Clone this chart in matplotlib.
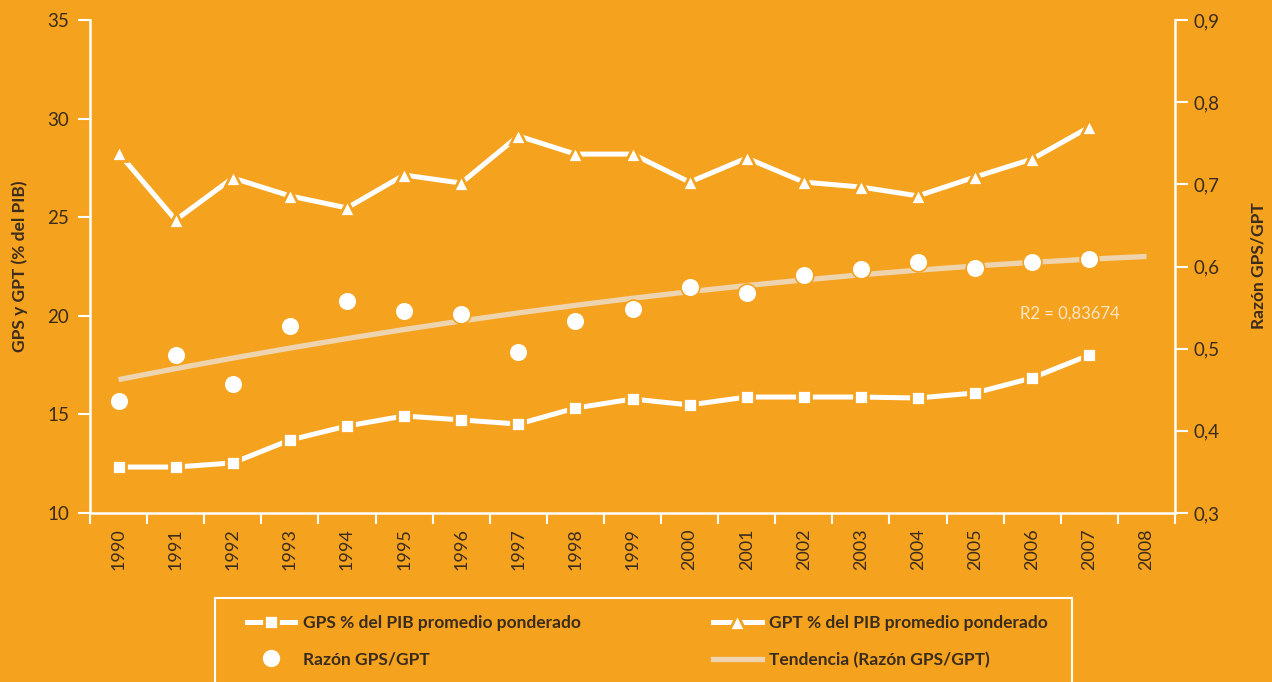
import numpy as np
import matplotlib
matplotlib.use("Agg")
import matplotlib.pyplot as plt
from matplotlib.lines import Line2D
from matplotlib.patches import Rectangle
from matplotlib.ticker import FuncFormatter

# =========================================================
# DATA
# =========================================================
years = [1990, 1991, 1992, 1993, 1994, 1995, 1996, 1997, 1998, 1999,
         2000, 2001, 2002, 2003, 2004, 2005, 2006, 2007, 2008]

gps_pib = [12.33, 12.33, 12.54, 13.70, 14.41, 14.92, 14.72, 14.51, 15.32,
           15.78, 15.48, 15.88, 15.88, 15.88, 15.83, 16.09, 16.85, 18.01]

gpt_pib = [28.26, 24.86, 26.99, 26.08, 25.47, 27.14, 26.73, 29.12, 28.20,
           28.20, 26.78, 28.00, 26.78, 26.53, 26.08, 27.04, 27.95, 29.57]

razon = [0.436, 0.492, 0.457, 0.528, 0.558, 0.546, 0.542, 0.496, 0.534,
         0.548, 0.575, 0.568, 0.590, 0.597, 0.605, 0.598, 0.605, 0.609]

r2_label = "R2 = 0,83674"

# =========================================================
# STYLE
# =========================================================
bg = "#F5A21E"
txt = "#3a2c1c"
trend_col = "#EED4AE"
plt.rcParams["font.family"] = ["Lato", "DejaVu Sans"]

fig = plt.figure(figsize=(12.72, 6.82), dpi=100, facecolor=bg)
ax = fig.add_axes([90 / 1272, 1 - 513 / 682, (1175 - 90) / 1272, (513 - 20) / 682])
ax.set_facecolor(bg)
ax2 = ax.twinx()

x = np.arange(len(gps_pib))
x_all = np.arange(len(years))

# trend: quadratic fit of the ratio, extended one period forward
coef = np.polyfit(x, razon, 2)
trend = np.polyval(coef, x_all)

ax2.plot(x_all, trend, color=trend_col, lw=3.8, solid_capstyle="butt", zorder=1)
ax2.plot(x, razon, ls="none", marker="o", ms=13.5, mfc="white", mec=bg, mew=1.2, zorder=3)

ax.plot(x, gps_pib, color="white", lw=3.6, marker="s", ms=10.5,
        mfc="white", mec=bg, mew=2.0, zorder=3)
ax.plot(x, gpt_pib, color="white", lw=3.6, marker="^", ms=11.5,
        mfc="white", mec=bg, mew=2.0, zorder=3)

ax.set_zorder(ax2.get_zorder() + 1)
ax.patch.set_visible(False)
ax2.patch.set_visible(True)
ax2.patch.set_facecolor(bg)

ax.text(0.857, 0.405, r2_label, transform=ax.transAxes, color="#FCE6C4",
        fontsize=12, ha="left", va="center")

# axes limits and ticks
ax.set_xlim(-0.5, len(years) - 0.5)
ax.set_ylim(10, 35)
ax.set_yticks([10, 15, 20, 25, 30, 35])
ax2.set_ylim(0.3, 0.9)
ax2.set_yticks([0.3, 0.4, 0.5, 0.6, 0.7, 0.8, 0.9])
ax2.yaxis.set_major_formatter(FuncFormatter(lambda v, p: f"{v:.1f}".replace(".", ",")))

ax.set_xticks(x_all)
ax.set_xticklabels([str(y) for y in years], rotation=90, va="top")
ax.set_xticks(np.arange(-0.5, len(years)), minor=True)
ax.tick_params(axis="x", which="major", length=0, pad=11, labelsize=13, labelcolor=txt)
ax.tick_params(axis="x", which="minor", length=8, width=1.5, color="white", direction="out")
ax.tick_params(axis="y", length=9, width=1.5, color="white", pad=6, labelsize=13.5, labelcolor=txt)
ax2.tick_params(axis="y", length=9, width=1.5, color="white", pad=4, labelsize=13.5, labelcolor=txt)

for a in (ax, ax2):
    for s in a.spines.values():
        s.set_visible(False)
ax.spines["left"].set_visible(True)
ax.spines["bottom"].set_visible(True)
ax2.spines["right"].set_visible(True)
for s in (ax.spines["left"], ax.spines["bottom"], ax2.spines["right"]):
    s.set_color("white")
    s.set_linewidth(1.8)

fig.text(20 / 1272, 1 - 266 / 682, "GPS y GPT (% del PIB)", rotation=90, ha="center",
         va="center", fontsize=12.5, fontweight="bold", color=txt)
fig.text(1258 / 1272, 1 - 266 / 682, "Razón GPS/GPT", rotation=90, ha="center",
         va="center", fontsize=12.5, fontweight="bold", color=txt)

# =========================================================
# LEGEND
# =========================================================
h_gps = Line2D([], [], color="white", lw=3.6, marker="s", ms=10.5, mfc="white", mec=bg, mew=2)
h_raz = Line2D([], [], ls="none", marker="o", ms=13.5, mfc="white", mec=bg)
h_gpt = Line2D([], [], color="white", lw=3.6, marker="^", ms=11.5, mfc="white", mec=bg, mew=2)
h_tre = Line2D([], [], color=trend_col, lw=3.8)

fig.legend([h_gps, h_raz, h_gpt, h_tre],
           ["GPS % del PIB promedio ponderado", "Razón GPS/GPT",
            "GPT % del PIB promedio ponderado", "Tendencia (Razón GPS/GPT)"],
           ncol=2, loc="upper left", bbox_to_anchor=(238 / 1272, 1 - 606 / 682),
           frameon=False, handlelength=2.8, handletextpad=0.45, columnspacing=7.6,
           labelspacing=1.2, borderpad=0, prop={"size": 12.5, "weight": "bold"},
           labelcolor=txt)

fig.patches.append(Rectangle((215 / 1272, -0.1), (1072 - 215) / 1272, 0.1 + (682 - 598) / 682,
                             transform=fig.transFigure, fill=False, ec="white", lw=1.5))

fig.savefig("out.png", dpi=100, facecolor=bg)
